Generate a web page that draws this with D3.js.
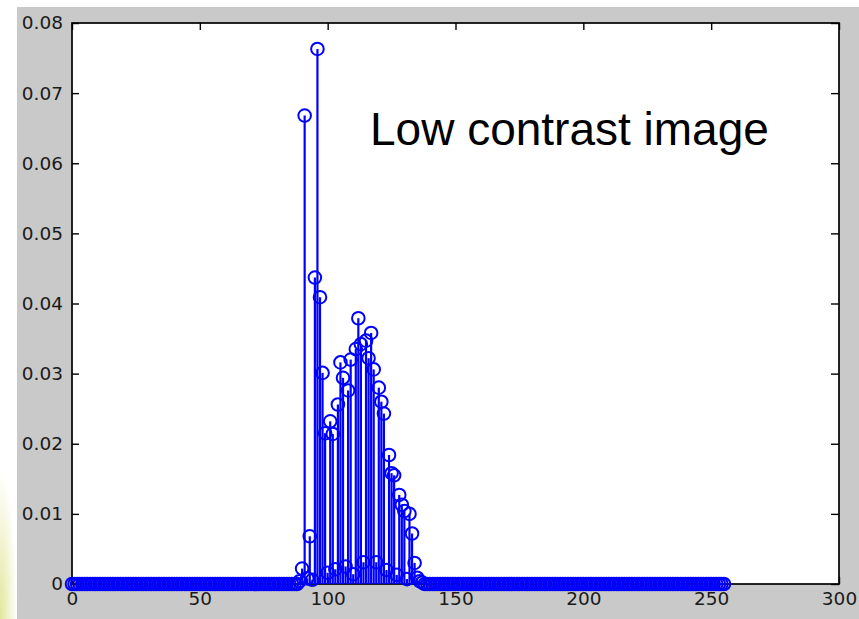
<!DOCTYPE html>
<head>
    <title>Histogram stem plot</title>
    <script src='https://d3js.org/d3.v7.min.js'></script>
    <style>
        body { margin: 0; background: #fff; }
        svg { display: block; }
    </style>
</head>
<body>
    <svg></svg>
</body>

<script>
    // Normalised histogram of a low contrast image, gray levels 0..255
    var histValues = [
        0, 0, 0, 0, 0, 0, 0, 0, 0, 0,
        0, 0, 0, 0, 0, 0, 0, 0, 0, 0,
        0, 0, 0, 0, 0, 0, 0, 0, 0, 0,
        0, 0, 0, 0, 0, 0, 0, 0, 0, 0,
        0, 0, 0, 0, 0, 0, 0, 0, 0, 0,
        0, 0, 0, 0, 0, 0, 0, 0, 0, 0,
        0, 0, 0, 0, 0, 0, 0, 0, 0, 0,
        0, 0, 0, 0, 0, 0, 0, 0, 0, 0,
        0, 0, 0, 0, 0, 0, 0, 0, 0,
        // 89 .. 137
        0.0004, 0.0022, 0.0668, 0.0008, 0.0068, 0.0006, 0.0437, 0.0763, 0.0409, 0.0301,
        0.0215, 0.0016, 0.0232, 0.0214, 0.0021, 0.0256, 0.0316, 0.0294, 0.0025, 0.0276,
        0.0320, 0.0014, 0.0335, 0.0379, 0.0342, 0.0031, 0.0347, 0.0322, 0.0358, 0.0306,
        0.0031, 0.0280, 0.0260, 0.0243, 0.0020, 0.0184, 0.0158, 0.0155, 0.0013, 0.0127,
        0.0113, 0.0104, 0.0007, 0.0100, 0.0072, 0.0030, 0.0009, 0.0004, 0.0002,
        // 138 .. 255
        0, 0, 0, 0, 0, 0, 0, 0, 0, 0,
        0, 0, 0, 0, 0, 0, 0, 0, 0, 0,
        0, 0, 0, 0, 0, 0, 0, 0, 0, 0,
        0, 0, 0, 0, 0, 0, 0, 0, 0, 0,
        0, 0, 0, 0, 0, 0, 0, 0, 0, 0,
        0, 0, 0, 0, 0, 0, 0, 0, 0, 0,
        0, 0, 0, 0, 0, 0, 0, 0, 0, 0,
        0, 0, 0, 0, 0, 0, 0, 0, 0, 0,
        0, 0, 0, 0, 0, 0, 0, 0, 0, 0,
        0, 0, 0, 0, 0, 0, 0, 0, 0, 0,
        0, 0, 0, 0, 0, 0, 0, 0, 0, 0,
        0, 0, 0, 0, 0, 0, 0, 0
    ];
    var xTicks = [0, 50, 100, 150, 200, 250, 300];
    var yTicks = [0, 0.01, 0.02, 0.03, 0.04, 0.05, 0.06, 0.07, 0.08];
    var titleText = 'Low contrast image';

    var vWidth = 859;
    var vHeight = 619;
    var box = { left: 72, top: 23, right: 839, bottom: 584 };
    var vBlue = '#0000ff';

    var svg = d3.select('svg').attr('width', vWidth).attr('height', vHeight);

    // Slide background + figure gray
    var defs = svg.append('defs');
    var grad = defs.append('radialGradient').attr('id', 'glow')
        .attr('cx', '0%').attr('cy', '100%').attr('r', '100%');
    grad.append('stop').attr('offset', '0%').attr('stop-color', '#e2e69a');
    grad.append('stop').attr('offset', '100%').attr('stop-color', '#ffffff');
    svg.append('rect').attr('width', vWidth).attr('height', vHeight).attr('fill', '#ffffff');
    svg.append('rect').attr('x', 0).attr('y', 470).attr('width', 17).attr('height', 149)
        .attr('fill', 'url(#glow)');
    svg.append('rect').attr('x', 17).attr('y', 7)
        .attr('width', vWidth - 17).attr('height', vHeight - 7)
        .attr('fill', '#c9c9c9');

    var x = d3.scaleLinear().domain([0, 300]).range([box.left, box.right]);
    var y = d3.scaleLinear().domain([0, 0.08]).range([box.bottom, box.top]);

    // Axes area
    svg.append('rect')
        .attr('x', box.left).attr('y', box.top)
        .attr('width', box.right - box.left).attr('height', box.bottom - box.top)
        .attr('fill', '#ffffff');

    var fmtY = function (d) { return d === 0 ? '0' : d3.format('.2f')(d); };

    function styleAxis(sel) {
        sel.select('.domain').remove();
        sel.selectAll('line').attr('stroke', '#000').attr('stroke-width', 1.4);
        sel.selectAll('text').attr('fill', '#1a1a1a')
            .style('font-family', 'DejaVu Sans, sans-serif').style('font-size', '18.5px');
    }

    svg.append('g').attr('transform', 'translate(0,' + box.bottom + ')')
        .call(d3.axisBottom(x).tickValues(xTicks).tickSize(-7).tickPadding(8))
        .call(styleAxis);
    svg.append('g').attr('transform', 'translate(0,' + box.top + ')')
        .call(d3.axisTop(x).tickValues(xTicks).tickSize(-7).tickFormat(''))
        .call(styleAxis);
    svg.append('g').attr('transform', 'translate(' + box.left + ',0)')
        .call(d3.axisLeft(y).tickValues(yTicks).tickSize(-7).tickPadding(9).tickFormat(fmtY))
        .call(styleAxis);
    svg.append('g').attr('transform', 'translate(' + box.right + ',0)')
        .call(d3.axisRight(y).tickValues(yTicks).tickSize(-8).tickFormat(''))
        .call(styleAxis);

    // Box
    svg.append('rect')
        .attr('x', box.left).attr('y', box.top)
        .attr('width', box.right - box.left).attr('height', box.bottom - box.top)
        .attr('fill', 'none').attr('stroke', '#000').attr('stroke-width', 1.7);

    // Stems
    var bins = histValues.map(function (v, i) { return { level: i, value: v }; });
    svg.append('g').selectAll('line').data(bins).enter().append('line')
        .attr('x1', function (d) { return x(d.level); })
        .attr('x2', function (d) { return x(d.level); })
        .attr('y1', y(0))
        .attr('y2', function (d) { return y(d.value); })
        .attr('stroke', vBlue).attr('stroke-width', 2.2);

    // Markers
    svg.append('g').selectAll('circle').data(bins).enter().append('circle')
        .attr('cx', function (d) { return x(d.level); })
        .attr('cy', function (d) { return y(d.value); })
        .attr('r', 6.3)
        .attr('fill', 'none')
        .attr('stroke', vBlue).attr('stroke-width', 2);

    // Annotation
    svg.append('text')
        .attr('x', 370).attr('y', 145)
        .style('font-family', 'Liberation Sans, Arial, sans-serif')
        .style('font-size', '46px')
        .attr('fill', '#000')
        .text(titleText);
</script>
